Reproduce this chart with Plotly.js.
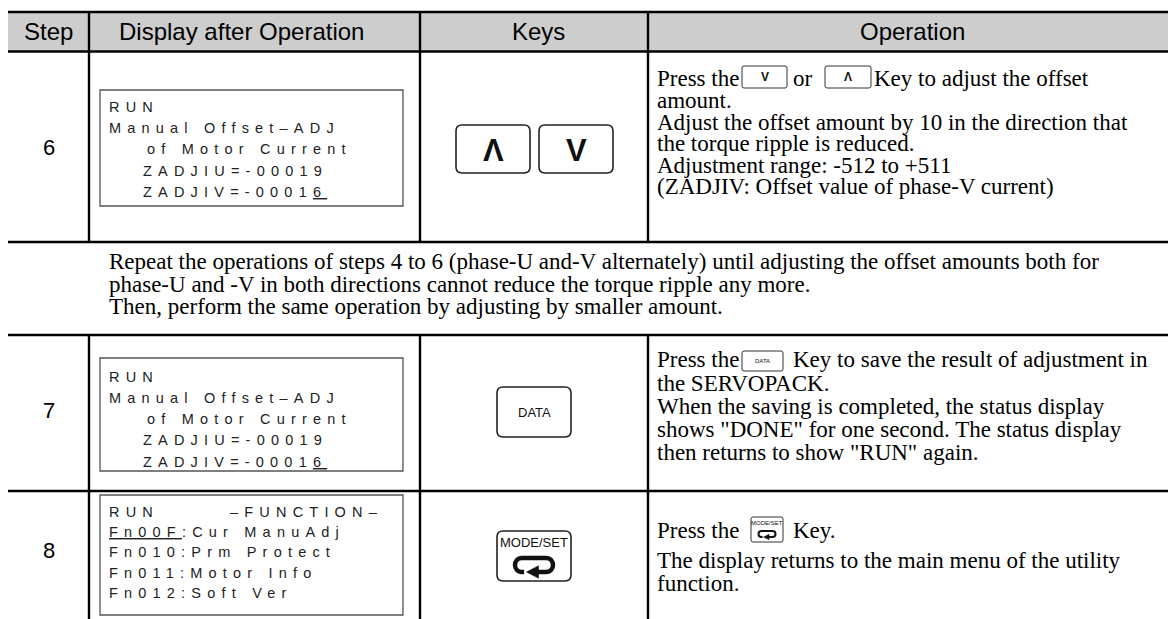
<!DOCTYPE html>
<html><head><meta charset="utf-8">
<script src="https://cdn.plot.ly/plotly-3.0.1.min.js"></script>
<style>html,body{margin:0;padding:0;background:#fff;overflow:hidden}</style>
</head><body><div id="chart" style="width:1168px;height:619px"></div>
<script>
// ---------------- data (texts) ----------------
const headerLabels = ['Step', 'Display after Operation', 'Keys', 'Operation'];
const stepLabels = ['6', '7', '8'];
const lcdStep6 = ['RUN', 'Manual Offset–ADJ', 'of Motor Current', 'ZADJIU=-00019', 'ZADJIV=-0001<span style="text-decoration:underline">6</span>'];
const lcdStep7 = ['RUN', 'Manual Offset–ADJ', 'of Motor Current', 'ZADJIU=-00019', 'ZADJIV=-0001<span style="text-decoration:underline">6</span>'];
const lcdStep8 = ['RUN', '–FUNCTION–', '<span style="text-decoration:underline">Fn00F</span>:Cur ManuAdj', 'Fn010:Prm Protect', 'Fn011:Motor Info', 'Fn012:Soft Ver'];
const keyStep6 = ['Λ', 'V'];
const keyStep7 = ['DATA'];
const keyStep8 = ['MODE/SET'];
const inlineStep6 = ['V', 'Λ'];
const opStep6 = ['Press the', 'or', 'Key to adjust the offset', 'amount.', 'Adjust the offset amount by 10 in the direction that', 'the torque ripple is reduced.', 'Adjustment range: -512 to +511', '(ZADJIV: Offset value of phase-V current)'];
const noteLines = ['Repeat the operations of steps 4 to 6 (phase-U and-V alternately) until adjusting the offset amounts both for', 'phase-U and -V in both directions cannot reduce the torque ripple any more.', 'Then, perform the same operation by adjusting by smaller amount.'];
const opStep7 = ['Press the', 'Key to save the result of adjustment in', 'the SERVOPACK.', 'When the saving is completed, the status display', 'shows "DONE" for one second. The status display', 'then returns to show "RUN" again.'];
const opStep8 = ['Press the', 'Key.', 'The display returns to the main menu of the utility', 'function.'];
const contLabel = '(cont’d)';

// ---------------- layout geometry ----------------
const X = {left: 8, c1: 89, c2: 420, c3: 648, right: 1168};
const Y = {top: 12, head: 51.5, r6b: 242, r7t: 335, r8t: 491, bottom: 619};
const SANS = 'Liberation Sans, Arial, sans-serif';
const SERIF = 'Liberation Serif, Times New Roman, serif';

const shapes = [];
const annotations = [];
const lcdIdx = new Set();

function line(x0, y0, x1, y1, w, c) {
  shapes.push({type: 'line', xref: 'x', yref: 'y', x0, y0, x1, y1, line: {color: c || '#000', width: w}});
}
function rect(x0, y0, x1, y1, w, c, fill) {
  shapes.push({type: 'rect', xref: 'x', yref: 'y', x0, y0, x1, y1, line: {color: c, width: w}, fillcolor: fill || 'rgba(0,0,0,0)', layer: 'above'});
}
function rrect(x0, y0, x1, y1, r, w, c) {
  const p = `M${x0 + r},${y0} L${x1 - r},${y0} Q${x1},${y0} ${x1},${y0 + r} L${x1},${y1 - r} Q${x1},${y1} ${x1 - r},${y1} L${x0 + r},${y1} Q${x0},${y1} ${x0},${y1 - r} L${x0},${y0 + r} Q${x0},${y0} ${x0 + r},${y0} Z`;
  shapes.push({type: 'path', xref: 'x', yref: 'y', path: p, line: {color: c, width: w}, fillcolor: 'rgba(0,0,0,0)'});
}
function returnIcon(cx, cy, w, h, sw) {
  const r = h / 2, L = cx - w / 2 + r, R = cx + w / 2 - r, yt = cy - r, yb = cy + r, k = 1.33 * r;
  const loop = `M${cx + 0.08 * w},${yb} L${R},${yb} C${R + k},${yb} ${R + k},${yt} ${R},${yt} L${L},${yt} C${L - k},${yt} ${L - k},${yb} ${L},${yb} L${cx - 0.26 * w},${yb}`;
  const head = `M${cx - 0.2 * w},${yb} L${cx + 0.12 * w},${yb - 0.45 * h} L${cx + 0.12 * w},${yb + 0.45 * h} Z`;
  shapes.push({type: 'path', xref: 'x', yref: 'y', path: loop, line: {color: '#111', width: sw}, fillcolor: 'rgba(0,0,0,0)'});
  shapes.push({type: 'path', xref: 'x', yref: 'y', path: head, line: {color: '#111', width: 0.5}, fillcolor: '#111'});
}
function txt(text, x, y, opt) {
  opt = opt || {};
  annotations.push({
    text, x, y, xref: 'x', yref: 'y', showarrow: false,
    xanchor: opt.xanchor || 'center', yanchor: 'middle', align: opt.align || 'center',
    borderpad: 0, borderwidth: 0,
    font: {family: opt.family || SANS, size: opt.size || 24, color: opt.color || '#000', weight: opt.weight || 'normal'}
  });
  return annotations.length - 1;
}

// header band
rect(X.left, Y.top, X.right, Y.head, 0, 'rgba(0,0,0,0)', '#cdcdcd');
shapes[0].layer = 'below';
// horizontal rules
[Y.top, Y.head, Y.r6b, Y.r7t, Y.r8t].forEach(y => line(X.left, y, X.right, y, 2.6));
// vertical rules
[X.c1, X.c2, X.c3].forEach(x => { line(x, Y.top, x, Y.r6b, 2.4); line(x, Y.r7t, x, Y.bottom, 2.4); });

// headers
const headerX = [48, 241, 538, 912];
headerLabels.forEach((t, i) => txt(t, headerX[i], 31.5, {size: 24}));

// step numbers
const stepY = [147, 410, 550];
stepLabels.forEach((t, i) => txt(t, 49, stepY[i], {size: 22}));

// LCD boxes and text
const lcdBoxes = [[100, 90, 403, 206], [100, 358, 403, 471], [100, 495, 403, 615]];
lcdBoxes.forEach(b => rect(b[0], b[1], b[2], b[3], 1.3, '#555'));
const lcdLayout = [
  {lines: lcdStep6, xs: [109, 109, 147, 143, 143], ys: [107, 128, 149, 171, 192]},
  {lines: lcdStep7, xs: [109, 109, 147, 143, 143], ys: [377, 398, 419, 440, 462]},
  {lines: lcdStep8, xs: [109, 230, 109, 109, 109, 109], ys: [512, 512, 532, 552, 573, 593]}
];
lcdLayout.forEach(g => g.lines.forEach((t, i) => {
  lcdIdx.add(txt(t, g.xs[i], g.ys[i], {xanchor: 'left', align: 'left', size: 14.5, color: '#222'}));
}));

// key boxes
rrect(456, 125, 530, 173, 6, 1.6, '#222');
rrect(539, 125, 613, 173, 6, 1.6, '#222');
txt(keyStep6[0], 493, 150, {size: 31, weight: 'bold', color: '#111'});
txt(keyStep6[1], 576, 150, {size: 31, weight: 'bold', color: '#111'});
rrect(497, 387, 571, 437, 6, 1.6, '#222');
txt(keyStep7[0], 534, 412, {size: 13, color: '#111'});
rrect(497, 531, 571, 581, 6, 1.6, '#222');
txt(keyStep8[0], 534, 542, {size: 13, color: '#111'});
returnIcon(534, 565, 38, 14, 4.5);

// inline key boxes in operation text
rrect(742, 66, 787, 88, 2, 1, '#333');
rrect(825, 66, 871, 88, 2, 1, '#333');
txt(inlineStep6[0], 764.5, 77, {size: 12, weight: 'bold', color: '#111'});
txt(inlineStep6[1], 848, 77, {size: 12, weight: 'bold', color: '#111'});
rrect(742, 351, 783, 371, 2, 1, '#333');
txt(keyStep7[0], 762.5, 361, {size: 6, color: '#111'});
rrect(751, 517, 783, 542, 2, 1, '#333');
txt(keyStep8[0], 767, 523, {size: 6, color: '#111'});
returnIcon(767, 534, 17, 6, 2);

// operation text
const OPX = 657;
const op = {size: 23, family: SERIF, xanchor: 'left', align: 'left'};
txt(opStep6[0], OPX, 78, op);
txt(opStep6[1], 793, 78, op);
txt(opStep6[2], 874, 78, op);
const op6Y = [100, 122, 143, 165, 186];
opStep6.slice(3).forEach((t, i) => txt(t, OPX, op6Y[i], op));

const noteY = [261, 284, 306];
noteLines.forEach((t, i) => txt(t, 109, noteY[i], op));

txt(opStep7[0], OPX, 359, op);
txt(opStep7[1], 793, 359, op);
const op7Y = [383, 406, 429, 452];
opStep7.slice(2).forEach((t, i) => txt(t, OPX, op7Y[i], op));

txt(opStep8[0], OPX, 530, op);
txt(opStep8[1], 793, 530, op);
const op8Y = [560, 583];
opStep8.slice(2).forEach((t, i) => txt(t, OPX, op8Y[i], op));

// cut-off "(cont'd)" label at the very top
annotations.push({text: contLabel, x: 1163, y: 1 + 12 / 619, xref: 'x', yref: 'paper', xanchor: 'right', yanchor: 'middle',
  showarrow: false, borderpad: 0, borderwidth: 0, font: {family: SANS, size: 21, color: '#000'}});

const data = [{type: 'scatter', mode: 'markers', x: [], y: [], hoverinfo: 'skip', showlegend: false}];
const layout = {
  width: 1168, height: 619,
  margin: {l: 0, r: 0, t: 0, b: 0, pad: 0},
  paper_bgcolor: '#fff', plot_bgcolor: '#fff',
  xaxis: {range: [0, 1168], visible: false, fixedrange: true},
  yaxis: {range: [619, 0], visible: false, fixedrange: true},
  showlegend: false,
  shapes, annotations
};
Plotly.newPlot('chart', data, layout, {staticPlot: true, displayModeBar: false}).then(gd => {
  gd.querySelectorAll('g.annotation').forEach(g => {
    const i = +g.getAttribute('data-index');
    if (lcdIdx.has(i)) g.querySelectorAll('text').forEach(t => { t.style.letterSpacing = '6.2px'; });
  });
});
</script>
</body></html>
